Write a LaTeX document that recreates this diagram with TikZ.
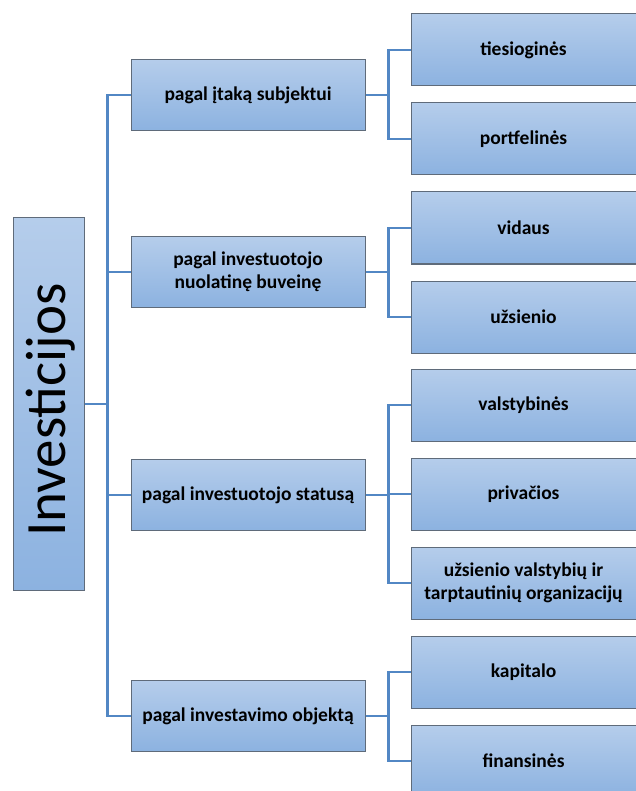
\documentclass[tikz,border=0pt]{standalone}
\usepackage{fontspec}
\setmainfont{Carlito}
\definecolor{linec}{HTML}{5287C4}
\definecolor{boxtop}{HTML}{B5CDEB}
\definecolor{boxbot}{HTML}{8CB2E0}
\definecolor{boxline}{HTML}{5F6B7A}
\begin{document}
\begin{tikzpicture}[x=1pt,y=-1pt,
  box/.style={draw=boxline,line width=1pt,top color=boxtop,bottom color=boxbot,
    inner sep=2pt,align=center,font=\fontsize{19.5}{23}\selectfont\bfseries},
  lone/.style={box,minimum width=234pt,minimum height=71pt},
  ltwo/.style={box,minimum width=225pt,minimum height=72pt},
  conn/.style={draw=linec,line width=2.6pt}]
\useasboundingbox (0,0) rectangle (636,791);
\fill[white] (0,0) rectangle (636,791);
% root
\node[draw=boxline,line width=1pt,top color=boxtop,bottom color=boxbot,minimum width=71pt,minimum height=373pt] (root) at (48.5,404) {};
\node[rotate=90,anchor=base west,inner sep=0pt,font=\fontsize{57}{60}\selectfont] (roottext) at (65,537) {Investicijos};
% level 1
\node[lone] (a) at (248,95) {pagal įtaką subjektui};
\node[lone] (b) at (248,272) {pagal investuotojo\\nuolatinę buveinę};
\node[lone] (c) at (248,495) {pagal investuotojo statusą};
\node[lone] (d) at (248,716) {pagal investavimo objektą};
% level 2
\node[ltwo] (a1) at (523.5,50) {tiesioginės};
\node[ltwo] (a2) at (523.5,139) {portfelinės};
\node[ltwo] (b1) at (523.5,228) {vidaus};
\node[ltwo] (b2) at (523.5,317) {užsienio};
\node[ltwo] (c1) at (523.5,405) {valstybinės};
\node[ltwo] (c2) at (523.5,494) {privačios};
\node[ltwo] (c3) at (523.5,583) {užsienio valstybių ir\\tarptautinių organizacijų};
\node[ltwo] (d1) at (523.5,672) {kapitalo};
\node[ltwo] (d2) at (523.5,761) {finansinės};
% connectors
\foreach \n in {a,b,c,d}
  \draw[conn] (root.east) -- ++(23,0) |- (\n.west);
\foreach \p/\k in {a/a1,a/a2,b/b1,b/b2,c/c1,c/c2,c/c3,d/d1,d/d2}
  \draw[conn] (\p.east) -- ++(23,0) |- (\k.west);
\end{tikzpicture}
\end{document}
